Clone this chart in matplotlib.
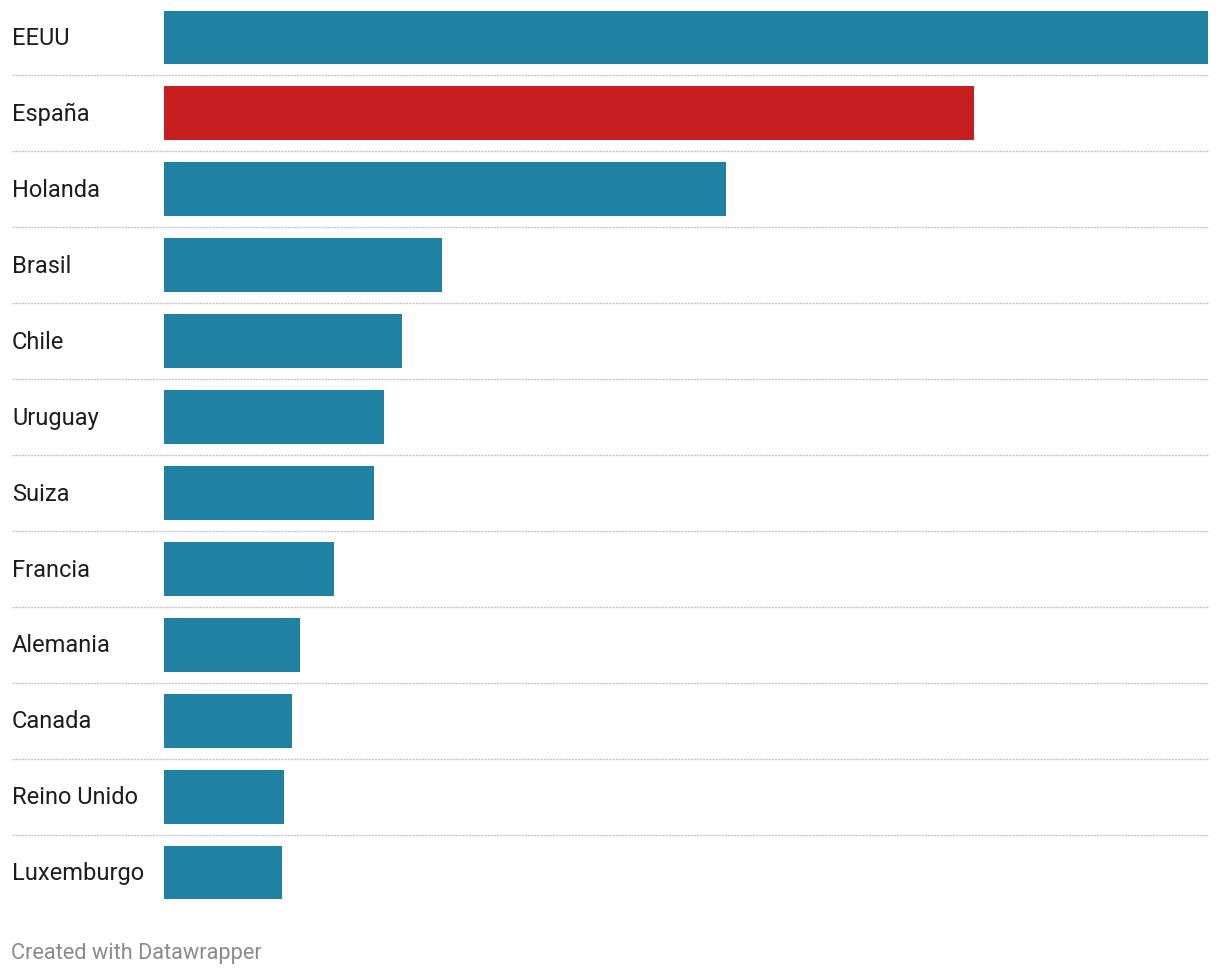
import matplotlib
matplotlib.use('Agg')
import matplotlib.pyplot as plt
from matplotlib.transforms import blended_transform_factory

# bar lengths (relative units)
countries = ['EEUU', 'España', 'Holanda', 'Brasil', 'Chile', 'Uruguay',
             'Suiza', 'Francia', 'Alemania', 'Canada', 'Reino Unido', 'Luxemburgo']
values = [104.4, 81.0, 56.2, 27.8, 23.8, 22.0, 21.0, 17.0, 13.6, 12.8, 12.0, 11.8]
highlight = 'España'

blue = '#1f82a2'
red = '#c71e1f'

plt.rcParams['font.family'] = ['Roboto', 'DejaVu Sans']

fig = plt.figure(figsize=(12.2, 9.76), dpi=100)
W, H = 1220, 976
ax = fig.add_axes([164 / W, 1 - 910.5 / H, (1208 - 164) / W, 911 / H])

n = len(countries)
ypos = list(range(n))
colors = [red if c == highlight else blue for c in countries]
ax.barh(ypos, values, height=0.71, color=colors, linewidth=0)

ax.set_xlim(0, max(values))
ax.set_ylim(n - 0.5, -0.5)
ax.axis('off')

# country labels on the left (nudged down a touch to match)
trans = blended_transform_factory(fig.transFigure, ax.transData)
for y, c in zip(ypos, countries):
    ax.text(12 / W, y + 0.015, c, transform=trans, ha='left', va='center',
            fontsize=17, color='#1d1d1d')

# dotted separators between rows
x0 = (12 - 164) / (1208 - 164)
for y in ypos[:-1]:
    ax.axhline(y + 0.5, xmin=x0, xmax=1, color='#c4c4c4', linewidth=1.0,
               linestyle=(0, (1.5, 0.75)), clip_on=False)

fig.text(11 / W, 1 - 954 / H, 'Created with Datawrapper', ha='left',
         va='center', fontsize=15.7, color='#8a8a8a')

fig.savefig('out.png', dpi=100, facecolor='white')
